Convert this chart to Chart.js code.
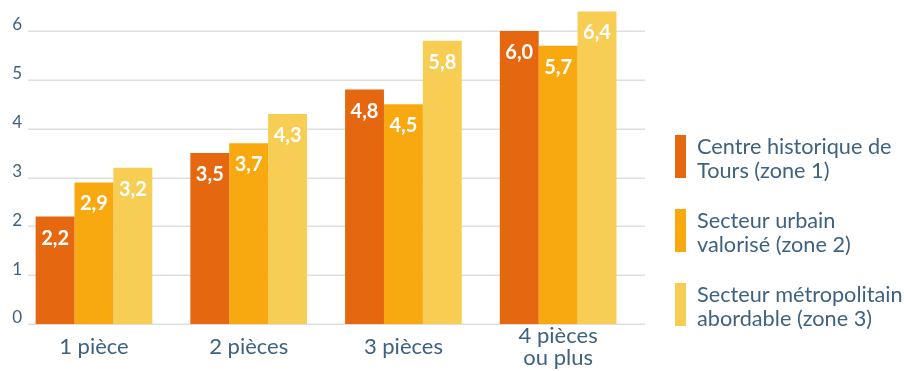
<!DOCTYPE html>
<html lang="fr">
<head>
<meta charset="UTF-8">
<title>Loyers par nombre de pièces</title>
<script src="https://cdn.jsdelivr.net/npm/chart.js"></script>
<style>
  html, body { margin: 0; padding: 0; background: #fff; }
  #wrap { position: relative; width: 904px; height: 371px; }
</style>
</head>
<body>
<div id="wrap"><canvas id="graphique"></canvas></div>
<script>
// Données
var categories = ["1 pièce", "2 pièces", "3 pièces", ["4 pièces", "ou plus"]];
var zone1 = [2.2, 3.5, 4.8, 6.0];
var zone2 = [2.9, 3.7, 4.5, 5.7];
var zone3 = [3.2, 4.3, 5.8, 6.4];
var seriesLabels = [
    ["Centre historique de", "Tours (zone 1)"],
    ["Secteur urbain", "valorisé (zone 2)"],
    ["Secteur métropolitain", "abordable (zone 3)"]
];
var yTicks = [0, 1, 2, 3, 4, 5, 6];

var couleurs = ["#e56710", "#f7a90f", "#f8cd53"];
var texte = "#3f6280";

// lignes de grille un peu décalées par rapport à la zone du graphique
var grille = {
    id: "grille",
    beforeDatasetsDraw: function (chart) {
        var y = chart.scales.y;
        var ctx = chart.ctx;
        ctx.save();
        ctx.strokeStyle = "#dedede";
        ctx.lineWidth = 1.5;
        y.ticks.forEach(function (t) {
            var py = Math.round(y.getPixelForValue(t.value)) + 0.25;
            ctx.beginPath();
            ctx.moveTo(28, py);
            ctx.lineTo(645, py);
            ctx.stroke();
        });
        ctx.restore();
    }
};

// valeurs écrites dans le haut des barres
var etiquettes = {
    id: "etiquettes",
    afterDatasetsDraw: function (chart) {
        var ctx = chart.ctx;
        ctx.save();
        ctx.fillStyle = "#fff";
        ctx.font = "bold 20px Lato";
        ctx.textAlign = "center";
        ctx.textBaseline = "alphabetic";
        chart.data.datasets.forEach(function (ds, i) {
            chart.getDatasetMeta(i).data.forEach(function (bar, j) {
                var txt = ds.data[j].toFixed(1).replace(".", ",");
                ctx.fillText(txt, bar.x, bar.y + 28);
            });
        });
        ctx.restore();
    }
};

// légende à droite, sur deux lignes
var legende = {
    id: "legende",
    afterDraw: function (chart) {
        var ctx = chart.ctx;
        ctx.save();
        ctx.font = "21.7px Lato";
        ctx.textAlign = "left";
        ctx.textBaseline = "alphabetic";
        chart.data.datasets.forEach(function (ds, i) {
            var top = 135 + i * 74;
            ctx.fillStyle = ds.backgroundColor;
            ctx.fillRect(675, top, 11, 43);
            ctx.fillStyle = texte;
            seriesLabels[i].forEach(function (ligne, k) {
                ctx.fillText(ligne, 697, top + 19 + k * 23.5);
            });
        });
        ctx.restore();
    }
};

var ctx = document.getElementById("graphique").getContext("2d");
var graphique = new Chart(ctx, {
    type: "bar",
    data: {
        labels: categories,
        datasets: [
            { label: seriesLabels[0].join(" "), data: zone1, backgroundColor: couleurs[0] },
            { label: seriesLabels[1].join(" "), data: zone2, backgroundColor: couleurs[1] },
            { label: seriesLabels[2].join(" "), data: zone3, backgroundColor: couleurs[2] }
        ]
    },
    options: {
        responsive: true,
        maintainAspectRatio: false,
        animation: false,
        datasets: { bar: { categoryPercentage: 0.754, barPercentage: 1 } },
        layout: { padding: { top: 6.6, right: 268.5, bottom: 0, left: 0 } },
        plugins: {
            legend: { display: false },
            tooltip: { enabled: false }
        },
        scales: {
            x: {
                grid: { display: false, drawTicks: false },
                border: { display: false },
                ticks: {
                    color: texte,
                    font: { family: "Lato", size: 22, lineHeight: "22px" },
                    padding: 12,
                    crossAlign: "center",
                    maxRotation: 0
                },
                afterFit: function (s) {
                    s.height = 47;
                    s.paddingLeft = 0;
                    s.paddingRight = 0;
                }
            },
            y: {
                min: 0,
                max: 6.5,
                grid: { display: false, drawTicks: false },
                border: { display: false },
                ticks: {
                    stepSize: 1,
                    color: texte,
                    font: { family: "Lato", size: 17 },
                    mirror: true,
                    padding: -4.4,
                    labelOffset: -6
                },
                afterBuildTicks: function (s) {
                    s.ticks = yTicks.map(function (v) { return { value: v }; });
                },
                afterFit: function (s) {
                    s.width = 16.6;
                    s.paddingTop = 0;
                    s.paddingBottom = 0;
                }
            }
        }
    },
    plugins: [grille, etiquettes, legende]
});
</script>
</body>
</html>
